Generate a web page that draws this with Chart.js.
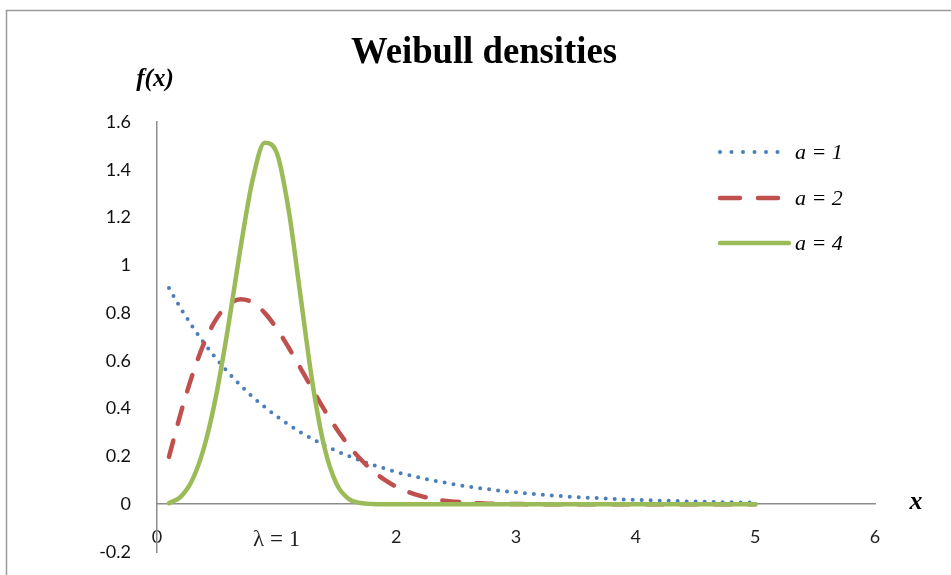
<!DOCTYPE html>
<html>
<head>
<meta charset="utf-8">
<script src="https://cdn.jsdelivr.net/npm/chart.js@4.4.1/dist/chart.umd.min.js"></script>
<style>
  html, body { margin: 0; padding: 0; background: #fff; }
  #wrap { width: 951px; height: 575px; position: relative; }
</style>
</head>
<body>
<div id="wrap"><canvas id="c" width="951" height="575"></canvas></div>
<script>
// x positions of the sampled densities (scale λ = 1)
const xValues = [0.1,0.2,0.3,0.4,0.5,0.6,0.7,0.8,0.9,1.0,
                 1.1,1.2,1.3,1.4,1.5,1.6,1.7,1.8,1.9,2.0,
                 2.1,2.2,2.3,2.4,2.5,2.6,2.7,2.8,2.9,3.0,
                 3.1,3.2,3.3,3.4,3.5,3.6,3.7,3.8,3.9,4.0,
                 4.1,4.2,4.3,4.4,4.5,4.6,4.7,4.8,4.9,5.0];

// shape a = 1
const densityA1 = [0.905,0.819,0.741,0.670,0.607,0.549,0.497,0.449,0.407,0.368,
                   0.333,0.301,0.273,0.247,0.223,0.202,0.183,0.165,0.150,0.135,
                   0.122,0.111,0.100,0.091,0.082,0.074,0.067,0.061,0.055,0.050,
                   0.045,0.041,0.037,0.033,0.030,0.027,0.025,0.022,0.020,0.018,
                   0.017,0.015,0.014,0.012,0.011,0.010,0.009,0.008,0.007,0.007];

// shape a = 2
const densityA2 = [0.198,0.384,0.548,0.682,0.779,0.837,0.858,0.844,0.801,0.736,
                   0.656,0.569,0.480,0.394,0.316,0.247,0.189,0.141,0.103,0.073,
                   0.051,0.035,0.023,0.015,0.010,0.006,0.004,0.002,0.001,0.001,
                   0,0,0,0,0,0,0,0,0,0,
                   0,0,0,0,0,0,0,0,0,0];

// shape a = 4
const densityA4 = [0.004,0.032,0.107,0.250,0.470,0.759,1.079,1.360,1.513,1.472,
                   1.232,0.869,0.505,0.236,0.085,0.023,0.005,0.001,0,0,
                   0,0,0,0,0,0,0,0,0,0,
                   0,0,0,0,0,0,0,0,0,0,
                   0,0,0,0,0,0,0,0,0,0];

const seriesNames = ['a = 1', 'a = 2', 'a = 4'];
const xTickValues = [0, 1, 2, 3, 4, 5, 6];
const xTickLabels = ['0', 'λ = 1', '2', '3', '4', '5', '6'];
const yTickValues = [-0.2, 0, 0.2, 0.4, 0.6, 0.8, 1, 1.2, 1.4, 1.6];
const yTickLabels = ['-0.2', '0', '0.2', '0.4', '0.6', '0.8', '1', '1.2', '1.4', '1.6'];

const chartTitle = 'Weibull densities';
const yAxisTitle = 'f(x)';
const xAxisTitle = 'x';

const toPoints = vals => xValues.map((x, i) => ({ x: x, y: vals[i] }));

const BLUE = '#4a7ebb';
const RED = '#c0504d';
const GREEN = '#9bbb59';
const AXIS = '#8c8c8c';

// Title, axis captions, legend and the outer frame
const decorations = {
  id: 'decorations',
  beforeDraw(chart) {
    const ctx = chart.ctx;
    ctx.save();
    ctx.fillStyle = '#fff';
    ctx.fillRect(0, 0, chart.width, chart.height);
    ctx.strokeStyle = '#9a9a9a';
    ctx.lineWidth = 1.5;
    ctx.strokeRect(6.5, 10.5, chart.width + 10, chart.height + 10);
    ctx.restore();
  },
  afterDraw(chart) {
    const ctx = chart.ctx;
    const ys = chart.scales.y;
    ctx.save();

    // title, condensed bold serif
    ctx.font = 'bold 37px "Liberation Serif", "DejaVu Serif", serif';
    ctx.fillStyle = '#000';
    ctx.textBaseline = 'alphabetic';
    ctx.textAlign = 'center';
    const tw = ctx.measureText(chartTitle).width;
    const target = 266;
    ctx.save();
    ctx.translate(484, 63);
    ctx.scale(target / tw, 1);
    ctx.fillText(chartTitle, 0, 0);
    ctx.restore();

    // axis captions
    ctx.font = 'italic bold 25px "Liberation Serif", serif';
    ctx.textAlign = 'center';
    ctx.fillText(yAxisTitle, 155, 86);
    ctx.font = 'italic bold 26px "Liberation Serif", serif';
    ctx.textBaseline = 'middle';
    ctx.fillText(xAxisTitle, 916, ys.getPixelForValue(0) - 2);

    // legend
    const rows = [152, 198, 243];
    chart.data.datasets.slice().sort((a, b) => b.order - a.order).forEach((ds, i) => {
      const y = rows[i];
      ctx.beginPath();
      ctx.strokeStyle = ds.borderColor;
      ctx.lineWidth = ds.borderWidth;
      ctx.lineCap = ds.borderCapStyle || 'butt';
      ctx.setLineDash(ds.legendDash || []);
      ctx.moveTo(720, y);
      ctx.lineTo(789, y);
      ctx.stroke();
      ctx.setLineDash([]);
      ctx.fillStyle = '#000';
      ctx.font = 'italic 22px "Liberation Serif", serif';
      ctx.textAlign = 'left';
      ctx.textBaseline = 'middle';
      ctx.fillText(ds.label, 795, y + 1);
    });
    ctx.restore();
  }
};

new Chart(document.getElementById('c'), {
  type: 'line',
  data: {
    datasets: [
      {
        label: seriesNames[2],
        data: toPoints(densityA4),
        borderColor: GREEN,
        borderWidth: 4.5,
        borderCapStyle: 'round',
        legendDash: [],
        order: 0
      },
      {
        label: seriesNames[1],
        data: toPoints(densityA2),
        borderColor: RED,
        borderWidth: 4.5,
        borderDash: [17, 17],
        borderCapStyle: 'round',
        legendDash: [20, 18],
        order: 1
      },
      {
        label: seriesNames[0],
        data: toPoints(densityA1),
        borderColor: BLUE,
        borderWidth: 4,
        borderDash: [0, 9],
        borderCapStyle: 'round',
        legendDash: [0, 11.5],
        order: 2
      }
    ]
  },
  options: {
    responsive: false,
    animation: false,
    devicePixelRatio: 1,
    layout: { padding: { left: 0, right: 76, top: 122, bottom: 23 } },
    elements: {
      point: { radius: 0, hoverRadius: 0 },
      line: { cubicInterpolationMode: 'monotone', fill: false }
    },
    plugins: {
      legend: { display: false },
      title: { display: false },
      tooltip: { enabled: false }
    },
    scales: {
      x: {
        type: 'linear',
        min: 0,
        max: 6,
        position: { y: 0 },
        grid: { display: false, drawTicks: false },
        border: { display: true, color: AXIS, width: 1.5 },
        afterBuildTicks(scale) {
          scale.ticks = xTickValues.map(v => ({ value: v }));
        },
        ticks: {
          padding: 22,
          color: '#1f1f1f',
          maxRotation: 0,
          autoSkip: false,
          callback: (v) => xTickLabels[xTickValues.indexOf(v)],
          font: (c) => (c.tick && c.tick.value === 1)
            ? { family: '"Liberation Serif", serif', size: 23 }
            : { family: 'Lato, "Open Sans", sans-serif', size: 18 }
        }
      },
      y: {
        type: 'linear',
        min: -0.2,
        max: 1.6,
        grid: { display: false, drawTicks: false },
        border: { display: true, color: AXIS, width: 1.5 },
        afterBuildTicks(scale) {
          scale.ticks = yTickValues.map(v => ({ value: v }));
        },
        afterFit(scale) {
          scale.width = 157;
          // labels only need half their height beyond the plot edges
          scale.paddingTop = 10;
          scale.paddingBottom = 10;
        },
        ticks: {
          padding: 26,
          color: '#111',
          autoSkip: false,
          callback: (v) => yTickLabels[yTickValues.findIndex(t => Math.abs(t - v) < 1e-9)],
          font: { family: 'Lato, "Open Sans", sans-serif', size: 18 }
        }
      }
    }
  },
  plugins: [decorations]
});
</script>
</body>
</html>
